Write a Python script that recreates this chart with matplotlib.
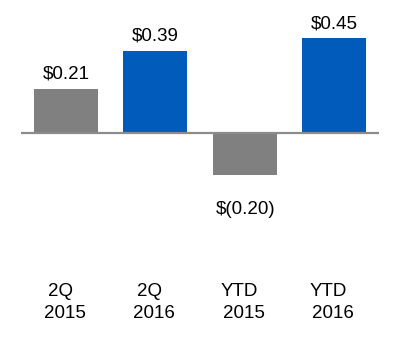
import matplotlib
matplotlib.use("Agg")
import matplotlib.pyplot as plt

categories = ["2Q\n2015", "2Q\n2016", "YTD\n2015", "YTD\n2016"]
values = [0.21, 0.39, -0.20, 0.45]
labels = ["$0.21", "$0.39", "$(0.20)", "$0.45"]
colors = ["#808080", "#005BBB", "#808080", "#005BBB"]

plt.rcParams['font.family'] = ['Liberation Sans', 'DejaVu Sans']

W, H = 400, 342
fig = plt.figure(figsize=(W / 100, H / 100), dpi=100)
ax = fig.add_axes([0, 0, 1, 1])

px_per_unit = 210.0
base_px = 132.7
ax.set_ylim(-(H - base_px) / px_per_unit, base_px / px_per_unit)
spacing = 89.3
x0 = 66.0
ax.set_xlim(-x0 / spacing, (W - x0) / spacing)

xs = list(range(len(values)))
ax.bar(xs, values, width=0.717, color=colors, zorder=2)
ax.plot([-0.504, 3.505], [0, 0], color="#8c8c8c", lw=1.6, zorder=3, solid_capstyle='butt')

fs = 13.5
for x, v, lab in zip(xs, values, labels):
    if v >= 0:
        ax.text(x, v + 10 / px_per_unit, lab, ha='center', va='baseline', fontsize=fs, color='black')
    else:
        ax.text(x + 0.01, v - 39 / px_per_unit, lab, ha='center', va='baseline', fontsize=fs, color='black')

for x, cat in zip(xs, categories):
    l1, l2 = cat.split("\n")
    ax.text(x - 0.06, (base_px - 296) / px_per_unit, l1, ha='center', va='baseline', fontsize=fs, color='black')
    ax.text(x - 0.01, (base_px - 318) / px_per_unit, l2, ha='center', va='baseline', fontsize=fs, color='black')

ax.axis('off')
fig.savefig("out.png", dpi=100)
